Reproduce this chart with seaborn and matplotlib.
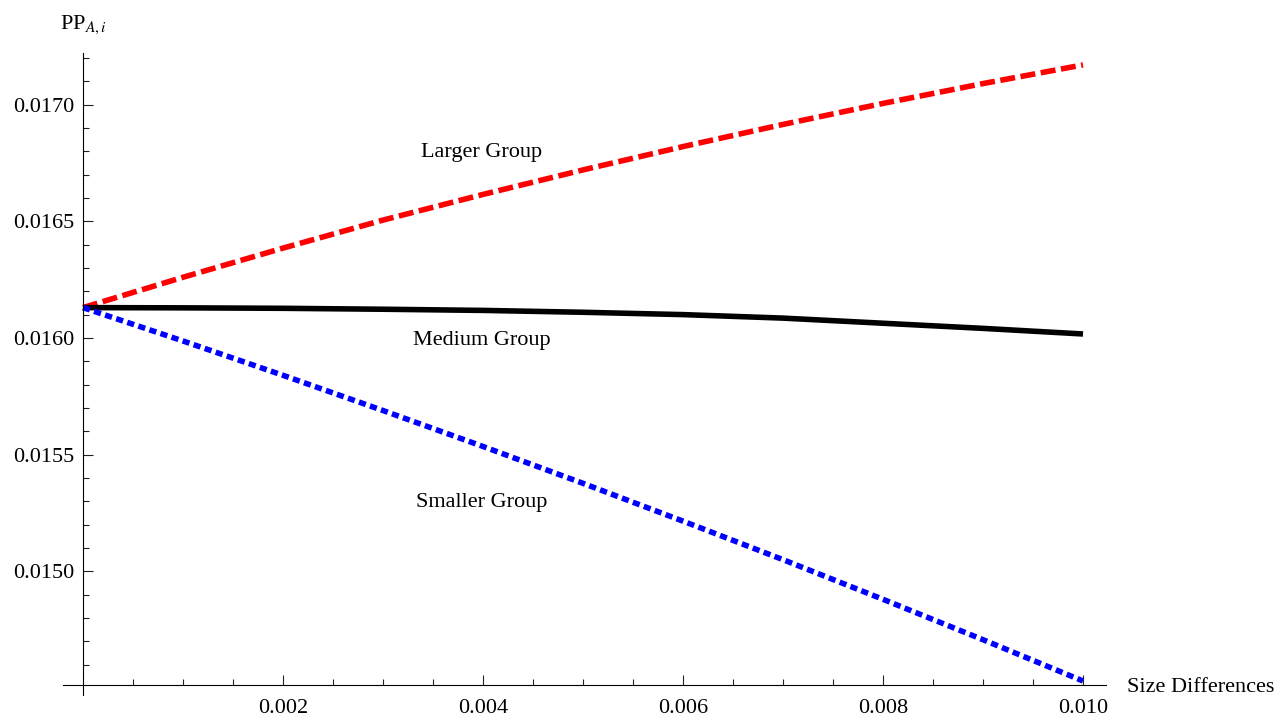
import matplotlib
matplotlib.use("Agg")
import matplotlib.pyplot as plt
import pandas as pd
import seaborn as sns
from matplotlib.ticker import FixedLocator, FormatStrFormatter

sns.set_theme(style="white")
plt.rcParams["font.family"] = ["Liberation Serif", "DejaVu Serif"]
plt.rcParams["mathtext.fontset"] = "stix"
plt.rcParams["text.color"] = "black"

# values
size_diff = [0.000, 0.001, 0.002, 0.003, 0.004, 0.005, 0.006, 0.007, 0.008, 0.009, 0.010]
larger = [0.016130, 0.016260, 0.016385, 0.016505, 0.016615, 0.016720,
          0.016820, 0.016915, 0.017005, 0.017090, 0.017170]
medium = [0.016130, 0.016129, 0.016127, 0.016123, 0.016118, 0.016110,
          0.016100, 0.016085, 0.016063, 0.016041, 0.016017]
smaller = [0.016130, 0.015987, 0.015840, 0.015689, 0.015535, 0.015377,
           0.015215, 0.015050, 0.014880, 0.014707, 0.014530]

y_major = [0.0150, 0.0155, 0.0160, 0.0165, 0.0170]
x_major = [0.002, 0.004, 0.006, 0.008, 0.010]
axis_cross_y = 0.014512

df = pd.DataFrame({"x": size_diff, "Larger": larger, "Medium": medium, "Smaller": smaller})

W, H = 1279, 722
fig = plt.figure(figsize=(W / 100, H / 100), dpi=100)
ax = fig.add_axes([63 / W, 1 - 695 / H, (1106 - 63) / W, (695 - 53) / H])

lw = 4.0
sns.lineplot(data=df, x="x", y="Larger", ax=ax, color="#ff0000", lw=lw,
             linestyle=(0, (2.7, 1.0)))
sns.lineplot(data=df, x="x", y="Medium", ax=ax, color="black", lw=lw)
sns.lineplot(data=df, x="x", y="Smaller", ax=ax, color="#0000ff", lw=lw,
             linestyle=(0, (1.3, 0.8)))
for ln in ax.lines:
    ln.set_dash_capstyle("butt")
    ln.set_solid_capstyle("butt")

ax.set_xlim(-0.0002, 0.01023)
ax.set_ylim(0.014470, 0.017221)

for s in ["top", "right"]:
    ax.spines[s].set_visible(False)
ax.spines["left"].set_position(("data", 0))
ax.spines["bottom"].set_position(("data", axis_cross_y))
for s in ["left", "bottom"]:
    ax.spines[s].set_color("black")
    ax.spines[s].set_linewidth(0.8)

ax.xaxis.set_major_locator(FixedLocator(x_major))
ax.xaxis.set_minor_locator(FixedLocator([i * 0.0005 for i in range(1, 20) if i % 4 != 0]))
ax.yaxis.set_major_locator(FixedLocator(y_major))
ax.yaxis.set_minor_locator(FixedLocator([0.0146 + i * 0.0001 for i in range(27)
                                         if i % 5 != 4]))
ax.xaxis.set_major_formatter(FormatStrFormatter("%.3f"))
ax.yaxis.set_major_formatter(FormatStrFormatter("%.4f"))

ax.tick_params(which="both", direction="in", bottom=True, left=True,
               color="#222222", width=0.8, labelsize=16, labelcolor="black")
ax.tick_params(which="major", length=7.4)
ax.tick_params(which="minor", length=4.6)
ax.tick_params(axis="x", pad=10)
ax.tick_params(axis="y", pad=6)
ax.set_xlabel("")
ax.set_ylabel("")

ax.text(0.00399, 0.016793, "Larger Group", fontsize=16, ha="center", va="center")
ax.text(0.00399, 0.015991, "Medium Group", fontsize=16, ha="center", va="center")
ax.text(0.00399, 0.015297, "Smaller Group", fontsize=16, ha="center", va="center")

ax.text(0.01044, axis_cross_y - 0.00001, "Size Differences", fontsize=16,
        ha="left", va="center", clip_on=False)
ax.text(-0.00023, 0.017324, r"PP$_{A,i}$", fontsize=16, ha="left",
        va="baseline", clip_on=False)

fig.savefig("out.png", dpi=100)
